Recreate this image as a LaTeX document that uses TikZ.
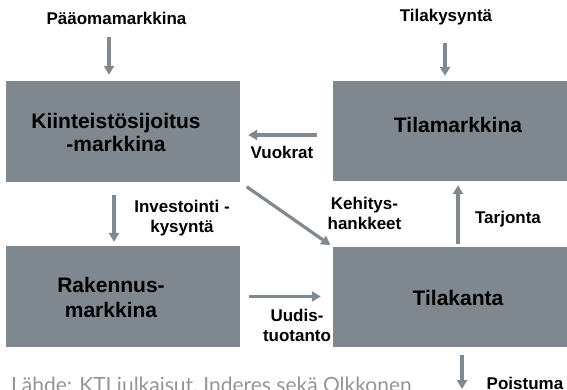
\documentclass[tikz,border=0pt]{standalone}
\usepackage{fontspec}
\setmainfont{Liberation Sans}
\newfontfamily\srcfont{Lato}
\usetikzlibrary{arrows.meta}
\definecolor{boxgray}{HTML}{7F888E}
\definecolor{arrgray}{HTML}{80898F}
\definecolor{srcgray}{HTML}{959595}
\begin{document}
\begin{tikzpicture}[x=1pt,y=-1pt,
  box/.style={fill=boxgray, draw=none, inner sep=0pt},
  boxtxt/.style={font=\bfseries\fontsize{21}{23}\selectfont, inner sep=0pt, align=center, text=black},
  lbl/.style={font=\bfseries\fontsize{17}{20}\selectfont, inner sep=0pt, align=center, text=black},
  arr/.style={draw=arrgray, line width=3.2pt, -{Triangle[width=10pt,length=9pt]}}]
\useasboundingbox (0,0) rectangle (567,390);
\clip (0,0) rectangle (567,390);
% boxes
\node[box, minimum width=234pt, minimum height=101pt] (ksm) at (123,131.5) {};
\node[box, minimum width=234pt, minimum height=101pt] (rm) at (123,296.5) {};
\node[box, minimum width=250pt, minimum height=100pt] (tm) at (458,131) {};
\node[box, minimum width=250pt, minimum height=100pt] (tk) at (458,297) {};
% box texts
\node[boxtxt] (ksmt) at (116,132.8) {Kiinteistösijoitus\\-markkina};
\node[boxtxt, font=\bfseries\fontsize{21}{25}\selectfont] (rmt) at (111,297.9) {Rakennus-\\markkina};
\node[boxtxt, anchor=base] (tmt) at (458,133) {Tilamarkkina};
\node[boxtxt, anchor=base] (tkt) at (458,305) {Tilakanta};
% labels
\node[lbl, anchor=base] (pm) at (116.5,25) {Pääomamarkkina};
\node[lbl, anchor=base] (tks) at (446,22) {Tilakysyntä};
\node[lbl, anchor=base] (vk) at (282,159) {Vuokrat};
\node[lbl] (ik) at (182,217.7) {Investointi -\\kysyntä};
\node[lbl] (kh) at (364.5,213.8) {Kehitys-\\hankkeet};
\node[lbl, anchor=base] (tj) at (508,223) {Tarjonta};
\node[lbl] (ut) at (297,325.8) {Uudis-\\tuotanto};
\node[lbl, anchor=base] (po) at (525,389) {Poistuma};
\node[anchor=base west, inner sep=0pt, font=\srcfont\fontsize{21}{23}\selectfont, text=srcgray] (src) at (11,392.5) {Lähde: KTI julkaisut, Inderes sekä Olkkonen};
% connectors
\coordinate (out) at (462,392);
\draw[arr, shorten <=12pt, shorten >=6pt] ([xshift=-7.5pt]pm.south) -- ([xshift=-7.5pt]pm.south |- ksm.north);
\draw[arr, shorten <=17pt, shorten >=5pt] ([xshift=-1pt]tks.south) -- ([xshift=-1pt]tks.south |- tm.north);
\draw[arr, shorten <=16pt, shorten >=8pt] ([yshift=-4pt]tm.west) -- ([yshift=-4pt]tm.west -| ksm.east);
\draw[arr, shorten <=8pt, shorten >=3pt] (ksm.south east) -- (tk.north west);
\draw[arr, shorten <=13pt, shorten >=4pt] ([xshift=-9pt]ksm.south) -- ([xshift=-9pt]rm.north);
\draw[arr, shorten <=9pt, shorten >=12pt] (rm.east) -- (rm.east -| tk.west);
\draw[arr, shorten <=3pt, shorten >=4pt] (tk.north) -- (tm.south);
\draw[arr, shorten <=8pt, shorten >=3pt] ([xshift=4pt]tk.south) -- (out);
\end{tikzpicture}
\end{document}
